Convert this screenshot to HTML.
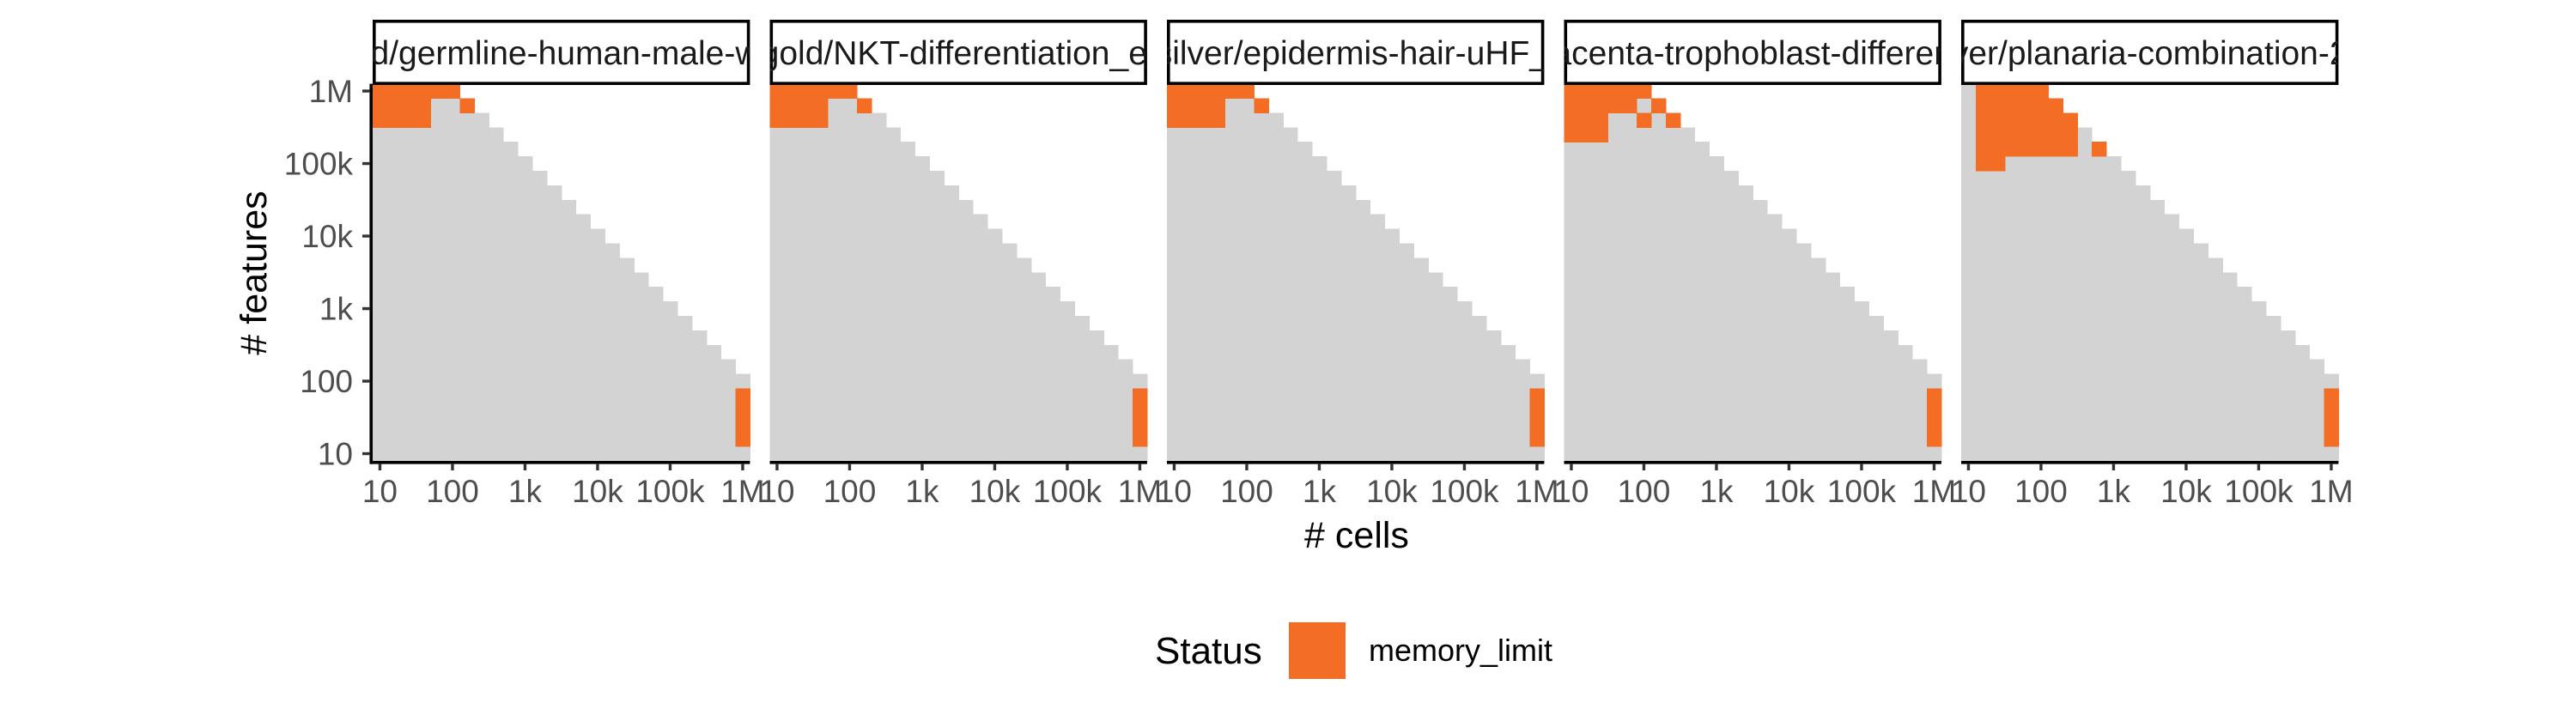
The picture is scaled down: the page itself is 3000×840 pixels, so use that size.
<!DOCTYPE html>
<html><head><meta charset="utf-8"><style>
html,body{margin:0;padding:0;background:#fff;}
svg{display:block;font-family:"Liberation Sans",sans-serif;}
</style></head><body>
<svg id="chart" width="3000" height="840" viewBox="0 0 3000 840" xmlns="http://www.w3.org/2000/svg">
<rect width="3000" height="840" fill="#fff"/>
<g id="panels"></g>
<text x="1580" y="638" font-size="43" text-anchor="middle" fill="#000"># cells</text>
<text transform="translate(310,318) rotate(-90)" font-size="43" text-anchor="middle" fill="#000"># features</text>
<g>
<text x="1345" y="773" font-size="44" fill="#000">Status</text>
<rect x="1501" y="725" width="66" height="66" fill="#f46d25"/>
<text x="1594" y="770" font-size="36" fill="#000">memory_limit</text>
</g>
</svg>
<script>
// log10 exponents of grid categories
const cellsExp = [1.0,1.2,1.4,1.6,1.8,2.0,2.2,2.4,2.6,2.8,3.0,3.2,3.4,3.6,3.8,4.0,4.2,4.4,4.6,4.8,5.0,5.2,5.4,5.6,5.8,6.0];
const featuresExp = [1.0,1.2,1.4,1.6,1.8,2.0,2.2,2.4,2.6,2.8,3.0,3.2,3.4,3.6,3.8,4.0,4.2,4.4,4.6,4.8,5.0,5.2,5.4,5.6,5.8,6.0];
// max cells exponent tested for each features row (bottom to top)
const maxCellsExp = [6.0,6.0,6.0,6.0,6.0,6.0,5.8,5.6,5.4,5.2,5.0,4.8,4.6,4.4,4.2,4.0,3.8,3.6,3.4,3.2,3.0,2.8,2.6,2.4,2.2,2.0];
const tickExp = [1,2,3,4,5,6];
const tickLabels = ["10","100","1k","10k","100k","1M"];
const panelTitles = ["old/germline-human-male-we","/gold/NKT-differentiation_en","silver/epidermis-hair-uHF_j","acenta-trophoblast-differen","ver/planaria-combination-2"];
// memory_limit cells per panel: cells exponents and features exponents (paired)
const mem1Cells = [1.0,1.2,1.4,1.6,1.8,2.0, 1.0,1.2,1.4,1.6,2.2, 1.0,1.2,1.4,1.6, 6.0,6.0,6.0,6.0];
const mem1Feats = [6.0,6.0,6.0,6.0,6.0,6.0, 5.8,5.8,5.8,5.8,5.8, 5.6,5.6,5.6,5.6, 1.2,1.4,1.6,1.8];
const mem2Cells = [1.0,1.2,1.4,1.6,1.8,2.0, 1.0,1.2,1.4,1.6,2.2, 1.0,1.2,1.4,1.6, 6.0,6.0,6.0,6.0];
const mem2Feats = [6.0,6.0,6.0,6.0,6.0,6.0, 5.8,5.8,5.8,5.8,5.8, 5.6,5.6,5.6,5.6, 1.2,1.4,1.6,1.8];
const mem3Cells = [1.0,1.2,1.4,1.6,1.8,2.0, 1.0,1.2,1.4,1.6,2.2, 1.0,1.2,1.4,1.6, 6.0,6.0,6.0,6.0];
const mem3Feats = [6.0,6.0,6.0,6.0,6.0,6.0, 5.8,5.8,5.8,5.8,5.8, 5.6,5.6,5.6,5.6, 1.2,1.4,1.6,1.8];
const mem4Cells = [1.0,1.2,1.4,1.6,1.8,2.0, 1.0,1.2,1.4,1.6,1.8,2.2, 1.0,1.2,1.4,2.0,2.4, 1.0,1.2,1.4, 6.0,6.0,6.0,6.0];
const mem4Feats = [6.0,6.0,6.0,6.0,6.0,6.0, 5.8,5.8,5.8,5.8,5.8,5.8, 5.6,5.6,5.6,5.6,5.6, 5.4,5.4,5.4, 1.2,1.4,1.6,1.8];
const mem5Cells = [1.2,1.4,1.6,1.8,2.0, 1.2,1.4,1.6,1.8,2.0,2.2, 1.2,1.4,1.6,1.8,2.0,2.2,2.4, 1.2,1.4,1.6,1.8,2.0,2.2,2.4, 1.2,1.4,1.6,1.8,2.0,2.2,2.4,2.8, 1.2,1.4, 6.0,6.0,6.0,6.0];
const mem5Feats = [6.0,6.0,6.0,6.0,6.0, 5.8,5.8,5.8,5.8,5.8,5.8, 5.6,5.6,5.6,5.6,5.6,5.6,5.6, 5.4,5.4,5.4,5.4,5.4,5.4,5.4, 5.2,5.2,5.2,5.2,5.2,5.2,5.2,5.2, 5.0,5.0, 1.2,1.4,1.6,1.8];
const memCells = [mem1Cells,mem2Cells,mem3Cells,mem4Cells,mem5Cells];
const memFeats = [mem1Feats,mem2Feats,mem3Feats,mem4Feats,mem5Feats];

const NS = "http://www.w3.org/2000/svg";
const panelLefts = [434, 896.5, 1359, 1821.5, 2284];
const PW = 439.4, PB = 537, PT = 97.6;
const step = PW / 26;
function xScale(p, e){ return panelLefts[p] + step/2 + (e - 1) / 0.2 * step; }
function yScale(e){ return PB - step/2 - (e - 1) / 0.2 * step; }
function mk(tag, attrs, parent){ const el = document.createElementNS(NS, tag); for (const k in attrs) el.setAttribute(k, attrs[k]); parent.appendChild(el); return el; }

const root = document.getElementById('panels');
for (let p = 0; p < 5; p++) {
  const g = mk('g', {}, root);
  
  
  const L = panelLefts[p];
  for (let j = 0; j < featuresExp.length; j++) {
    for (let i = 0; i < cellsExp.length; i++) {
      if (cellsExp[i] > maxCellsExp[j] + 1e-9) continue;
      const r = mk('rect', {x: xScale(p, cellsExp[i]) - step/2, y: yScale(featuresExp[j]) - step/2, width: step + 0.6, height: step + 0.6, fill: '#d3d3d3', 'shape-rendering': 'crispEdges'}, g);
      
      
    }
  }
  for (let k = 0; k < memCells[p].length; k++) {
    const r = mk('rect', {x: xScale(p, memCells[p][k]) - step/2, y: yScale(memFeats[p][k]) - step/2, width: step + 0.6, height: step + 0.6, fill: '#f46d25', 'shape-rendering': 'crispEdges'}, g);
    
    
  }
  const ax = mk('line', {x1: L - (p===0?2:0), x2: L + PW, y1: PB + 1.8, y2: PB + 1.8, stroke: '#000', 'stroke-width': 3.6}, g);
  
  
  for (let t = 0; t < tickExp.length; t++) {
    const x = xScale(p, tickExp[t]);
    const tk = mk('line', {x1: x, x2: x, y1: PB + 3, y2: PB + 11, stroke: '#333', 'stroke-width': 3.4}, g);
    
    
    const tl = mk('text', {x: x, y: 585, 'font-size': 37, 'text-anchor': 'middle', fill: '#4d4d4d'}, g);
    tl.textContent = tickLabels[t];
    
    
  }
  const sg = mk('g', {}, g);
  
  
  mk('clipPath', {id: 'clip' + p}, sg).appendChild(document.createElementNS(NS, 'rect'));
  const cr = sg.querySelector('clipPath rect');
  cr.setAttribute('x', L); cr.setAttribute('y', 23); cr.setAttribute('width', PW); cr.setAttribute('height', 76);
  mk('rect', {x: L + 1.8, y: 24.8, width: PW - 3.6, height: 72.4, fill: '#fff', stroke: '#000', 'stroke-width': 3.6}, sg);
  const st = mk('text', {x: L + PW/2, y: 75, 'font-size': 39, 'text-anchor': 'middle', fill: '#1a1a1a', 'clip-path': 'url(#clip' + p + ')'}, sg);
  st.textContent = panelTitles[p];
  
  
}
const yg = mk('g', {}, root);


mk('line', {x1: 432.2, x2: 432.2, y1: PT, y2: PB + 3.6, stroke: '#000', 'stroke-width': 3.6}, yg);
for (let t = 0; t < tickExp.length; t++) {
  const y = yScale(tickExp[t]);
  const tk = mk('line', {x1: 422, x2: 431, y1: y, y2: y, stroke: '#333', 'stroke-width': 3.4}, yg);
  
  
  const tl = mk('text', {x: 411, y: y + 13, 'font-size': 37, 'text-anchor': 'end', fill: '#4d4d4d'}, yg);
  tl.textContent = tickLabels[t];
  
  
}
</script>
</body></html>
